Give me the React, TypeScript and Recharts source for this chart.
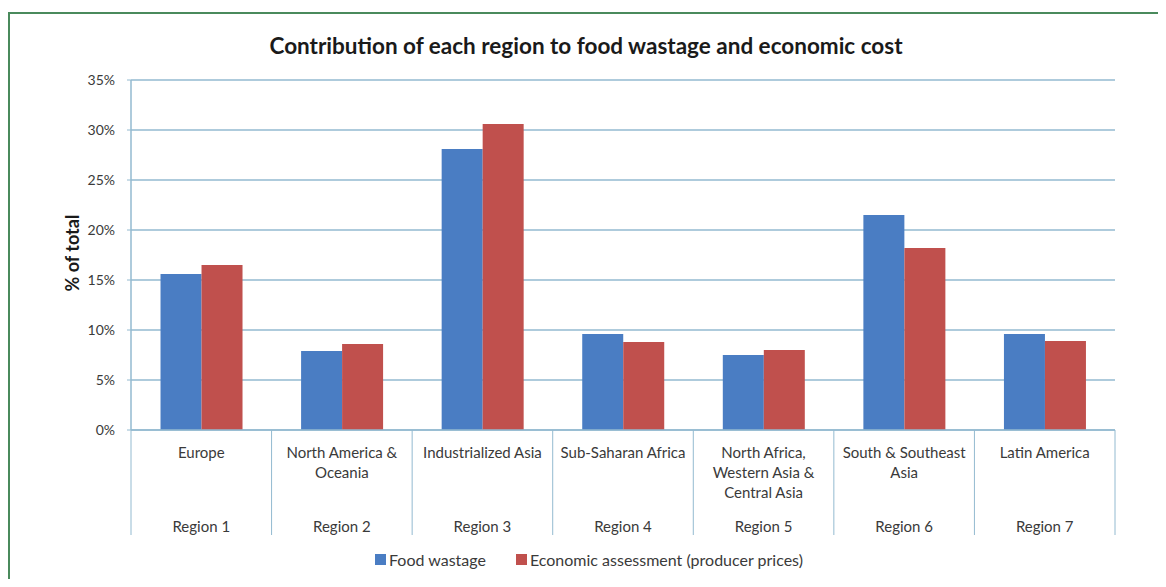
import React from 'react';
import { BarChart, Bar, XAxis, YAxis, CartesianGrid, Legend } from 'recharts';

const regionNames = [
  ['Europe'],
  ['North America &', 'Oceania'],
  ['Industrialized Asia'],
  ['Sub-Saharan Africa'],
  ['North Africa,', 'Western Asia &', 'Central Asia'],
  ['South & Southeast', 'Asia'],
  ['Latin America'],
];
const regionCodes = ['Region 1', 'Region 2', 'Region 3', 'Region 4', 'Region 5', 'Region 6', 'Region 7'];
const foodWastage = [15.6, 7.9, 28.1, 9.6, 7.5, 21.5, 9.6];
const economicCost = [16.5, 8.6, 30.6, 8.8, 8.0, 18.2, 8.9];
const yTicks = [0, 5, 10, 15, 20, 25, 30, 35];
const seriesOrder = ['food', 'econ'];

const data = regionCodes.map((code, i) => ({
  code,
  lines: regionNames[i],
  food: foodWastage[i],
  econ: economicCost[i],
}));

const FONT = 'Lato, "DejaVu Sans", sans-serif';
const GRID = '#93bad0';
const BLUE = '#4a7dc3';
const RED = '#c0504d';

function CategoryTick(props: any) {
  const { x, y, payload, index } = props;
  const half = payload && payload.offset ? payload.offset : 70.3;
  const row = data[index] || data[0];
  const isLast = index === data.length - 1;
  return (
    <g>
      <line x1={x - half} x2={x - half} y1={y} y2={y + 105} stroke={GRID} strokeWidth={1} />
      {isLast && (
        <line x1={x + half} x2={x + half} y1={y} y2={y + 105} stroke={GRID} strokeWidth={1} />
      )}
      {row.lines.map((ln: string, k: number) => (
        <text key={k} x={x} y={y + 28 + k * 20} textAnchor="middle" fontSize={15} fill="#3a3a3a" fontFamily={FONT}>
          {ln}
        </text>
      ))}
      <text x={x} y={y + 102} textAnchor="middle" fontSize={15} fill="#3a3a3a" fontFamily={FONT}>
        {payload.value}
      </text>
    </g>
  );
}

function LegendBox(props: any) {
  const items = [...(props.payload || [])].sort(
    (a: any, b: any) => seriesOrder.indexOf(a.dataKey) - seriesOrder.indexOf(b.dataKey)
  );
  return (
    <div style={{ display: 'flex', justifyContent: 'center', gap: 30, fontFamily: FONT, fontSize: 16, color: '#3a3a3a', height: 20, alignItems: 'center', paddingLeft: 32 }}>
      {items.map((it: any) => (
        <div key={it.value} style={{ display: 'flex', alignItems: 'center' }}>
          <span style={{ display: 'inline-block', width: 11, height: 11, background: it.color, marginRight: 3 }} />
          <span>{it.value}</span>
        </div>
      ))}
    </div>
  );
}

export default function App() {
  return (
    <div style={{ position: 'relative', width: 1166, height: 587, margin: -8, overflow: 'hidden', background: '#fff' }}>
      <div style={{ position: 'absolute', left: 8, top: 12, width: 1300, height: 800, borderTop: '2px solid #4a8a5c', borderLeft: '2px solid #4a8a5c' }} />
      <div style={{ position: 'absolute', left: 0, width: 1172, top: 32, textAlign: 'center', fontFamily: FONT, fontWeight: 700, fontSize: 22.5, color: '#1a1a1a' }}>
        Contribution of each region to food wastage and economic cost
      </div>
      <div style={{ position: 'absolute', left: 0, top: 0 }}>
        <BarChart
          width={1166}
          height={587}
          data={data}
          margin={{ top: 80, right: 51, left: 31, bottom: 18 }}
          barCategoryGap="21%"
          barGap={0}
        >
          <CartesianGrid vertical={false} stroke={GRID} strokeWidth={1.5} />
          <XAxis
            dataKey="code"
            height={119}
            interval={0}
            tickLine={false}
            tickSize={0}
            tickMargin={0}
            axisLine={{ stroke: GRID, strokeWidth: 1.5 }}
            tick={<CategoryTick />}
          />
          <YAxis
            width={100}
            domain={[0, 35]}
            ticks={yTicks}
            tickFormatter={(v: number) => `${v}%`}
            tickSize={4}
            tickMargin={12}
            tickLine={{ stroke: GRID }}
            axisLine={{ stroke: GRID, strokeWidth: 1.5 }}
            tick={{ fontSize: 14, fill: '#3a3a3a', fontFamily: FONT }}
            label={{ value: '% of total', angle: -90, position: 'center', dx: -8, dy: -2, style: { fontSize: 18, fontWeight: 700, fill: '#1a1a1a', fontFamily: FONT } }}
          />
          <Legend
            verticalAlign="bottom"
            content={<LegendBox />}
            wrapperStyle={{ height: 20 }}
          />
          <Bar dataKey="food" name="Food wastage" fill={BLUE} isAnimationActive={false} />
          <Bar dataKey="econ" name="Economic assessment (producer prices)" fill={RED} isAnimationActive={false} />
        </BarChart>
      </div>
    </div>
  );
}
